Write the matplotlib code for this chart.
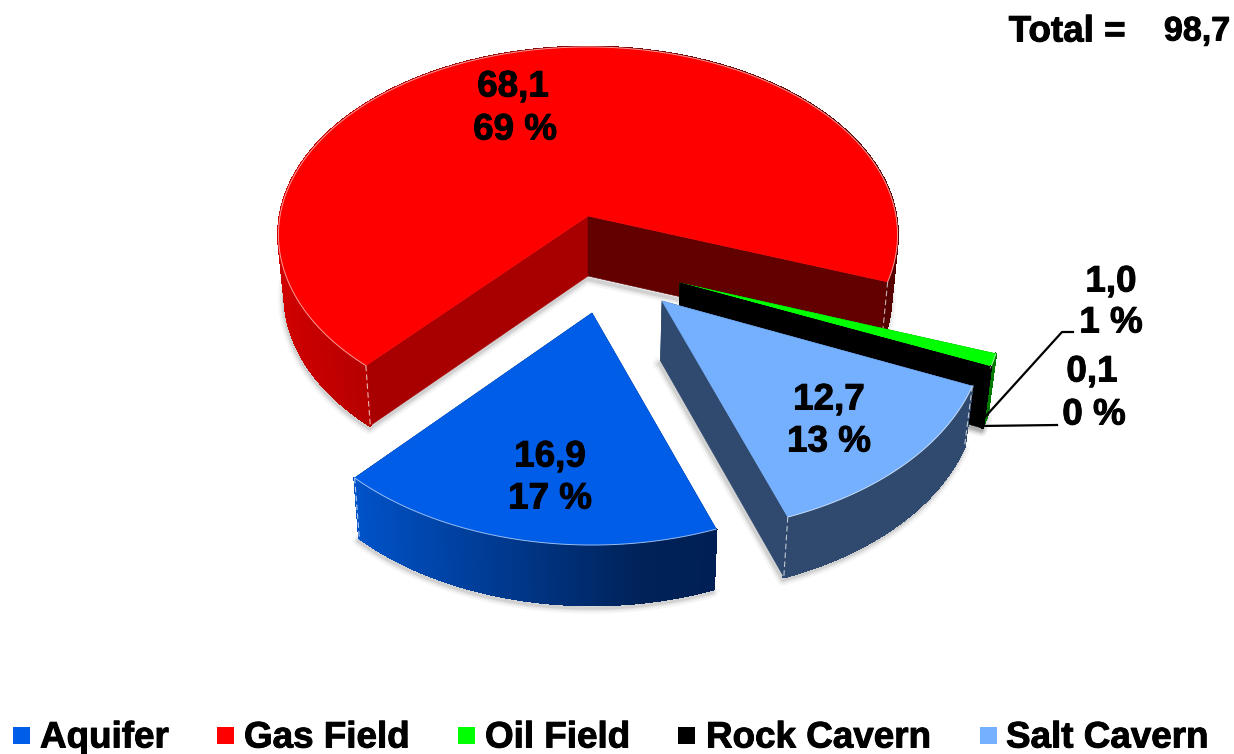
import numpy as np
import matplotlib
matplotlib.use('Agg')
import matplotlib.pyplot as plt
import matplotlib.patheffects as pe
from matplotlib.collections import PolyCollection
from matplotlib.colors import to_rgb
from matplotlib.patches import Polygon, Rectangle

plt.rcParams['font.family'] = ['Liberation Sans', 'DejaVu Sans']

# data
names = ['Aquifer', 'Gas Field', 'Oil Field', 'Rock Cavern', 'Salt Cavern']
values = [16.9, 68.1, 1.0, 0.1, 12.7]
total_label = '98,7'

# styles
top_colors = ['#005DE8', '#FF0000', '#00FF00', '#000000', '#75B0FF']
side_stops = [
    [(355, '#0052C8'), (640, '#002258'), (712, '#002055')],
    [(278, '#D00000'), (370, '#B40000'), (588, '#800000'), (897, '#560000')],
    [(0, '#007A00'), (1234, '#007A00')],
    [(0, '#000000'), (1234, '#000000')],
    [(0, '#2F4A6E'), (1234, '#2F4A6E')],
]
cut_colors = ['#002055', ('#A80000', '#620000'), '#007A00', '#000000', '#2F4A6E']
draw_order = [1, 2, 3, 4, 0]

# pie geometry, pixels: each exploded slice has its own tip and foreshortening
tips = [(592, 313), (588, 216), (680, 283), (680, 283), (662, 301)]
radius_x = [314, 308, 318, 318, 318]
radius_y = [195.6, 186, 195.6, 195.6, 195.6]
persp = [0.157, 0.10, 0.157, 0.157, 0.157]
depth = 60
start_angle = -70.3
text_style = [pe.withStroke(linewidth=0.7, foreground='black')]


def side_color(x, stops):
    xs = [s[0] for s in stops]
    rgb = np.array([to_rgb(s[1]) for s in stops])
    return [np.interp(x, xs, rgb[:, i]) for i in range(3)]


def to_bottom(x, y):
    return 588 + (x - 588) * 0.98, y + depth


fig = plt.figure(figsize=(12.34, 7.54), dpi=100)
ax = fig.add_axes([0, 0, 1, 1])
ax.set_xlim(0, 1234)
ax.set_ylim(754, 0)
ax.axis('off')

total = sum(values)
sweeps = [v / total * 360 for v in values]
starts = start_angle - np.concatenate([[0], np.cumsum(sweeps)[:-1]])

for i in draw_order:
    a0 = starts[i]
    a1 = a0 - sweeps[i]
    t = np.radians(np.linspace(a0, a1, max(int(sweeps[i] * 2), 3)))
    tip_x, tip_y = tips[i]
    k = 1 / (1 + persp[i] * np.sin(t))
    rim_x = tip_x + radius_x[i] * np.cos(t) * k
    rim_y = tip_y - radius_y[i] * np.sin(t) * k
    bot_x, bot_y = to_bottom(rim_x, rim_y)
    abx, aby = to_bottom(tip_x, tip_y)
    base = draw_order.index(i) * 10

    # soft shadow under the slice
    sx = np.concatenate([[abx], bot_x, [abx]]) - 1
    sy = np.concatenate([[aby], bot_y, [aby]]) + 3
    for lw, alpha in [(8, 0.05), (5, 0.08), (2.5, 0.12)]:
        ax.plot(sx, sy, color='#404040', lw=lw, alpha=alpha, solid_joinstyle='round', zorder=base)

    # cut faces
    cut = cut_colors[i]
    cut_a0, cut_a1 = cut if isinstance(cut, tuple) else (cut, cut)
    ax.add_patch(Polygon([(tip_x, tip_y), (rim_x[0], rim_y[0]), (bot_x[0], bot_y[0]), (abx, aby)],
                         closed=True, fc=cut_a0, ec=cut_a0, lw=0.4, zorder=base + 1))
    ax.add_patch(Polygon([(tip_x, tip_y), (rim_x[-1], rim_y[-1]), (bot_x[-1], bot_y[-1]), (abx, aby)],
                         closed=True, fc=cut_a1, ec=cut_a1, lw=0.4, zorder=base + 1))

    # outer wall
    quads = []
    cols = []
    for j in range(len(t) - 1):
        quads.append([(rim_x[j], rim_y[j]), (rim_x[j + 1], rim_y[j + 1]),
                      (bot_x[j + 1], bot_y[j + 1]), (bot_x[j], bot_y[j])])
        cols.append(side_color((rim_x[j] + rim_x[j + 1]) / 2, side_stops[i]))
    ax.add_collection(PolyCollection(quads, facecolors=cols, edgecolors=cols, linewidths=1.2,
                                     antialiaseds=False, zorder=base + 2))

    # corner highlights, only where the corner shows in front
    if sweeps[i] > 10:
        for j in [0, -1]:
            if i == 0 and j == 0:
                continue
            ax.plot([rim_x[j], bot_x[j]], [rim_y[j], bot_y[j]], color='white', lw=0.8,
                    ls=(0, (5, 3)), alpha=0.7, zorder=base + 3)

    # top
    top = np.column_stack([np.concatenate([[tip_x], rim_x]), np.concatenate([[tip_y], rim_y])])
    ax.add_patch(Polygon(top, closed=True, fc=top_colors[i], ec=top_colors[i], lw=0.4, zorder=base + 4))
    ax.plot(rim_x, rim_y, color='white', lw=0.7, alpha=0.6, zorder=base + 5)

# value labels
label_pos = [(550, 457, 550, 499), (513, 87, 515, 130), (1111, 282, 1111, 323),
             (1092, 372, 1094, 415), (829, 400, 829, 442)]
for v, pos in zip(values, label_pos):
    pct = round(v / total * 100)
    ax.text(pos[0], pos[1], f'{v:.1f}'.replace('.', ','), fontsize=26.5, fontweight='bold',
            ha='center', va='center', color='black', zorder=100, path_effects=text_style)
    ax.text(pos[2], pos[3], f'{pct} %', fontsize=26.5, fontweight='bold',
            ha='center', va='center', color='black', zorder=100, path_effects=text_style)

# leader lines
ax.plot([1073, 1062, 985], [332, 332, 417], color='black', lw=1.6, zorder=100)
ax.plot([1057, 980], [425, 426], color='black', lw=1.6, zorder=100)

# total
ax.text(1067, 32, 'Total =', fontsize=26.5, fontweight='bold', ha='center', va='center', path_effects=text_style)
ax.text(1197, 32, total_label, fontsize=24.5, fontweight='bold', ha='center', va='center', path_effects=text_style)

# legend
legend_box_x = [13, 217, 458, 678, 980]
legend_text_x = [40, 244, 485, 706, 1006]
for name, col, bx, tx in zip(names, top_colors, legend_box_x, legend_text_x):
    ax.add_patch(Rectangle((bx, 727), 17, 17, fc=col, ec='none'))
    ax.text(tx, 738, name, fontsize=26.5, fontweight='bold', ha='left', va='center', path_effects=text_style)

fig.savefig('out.png', dpi=100)
